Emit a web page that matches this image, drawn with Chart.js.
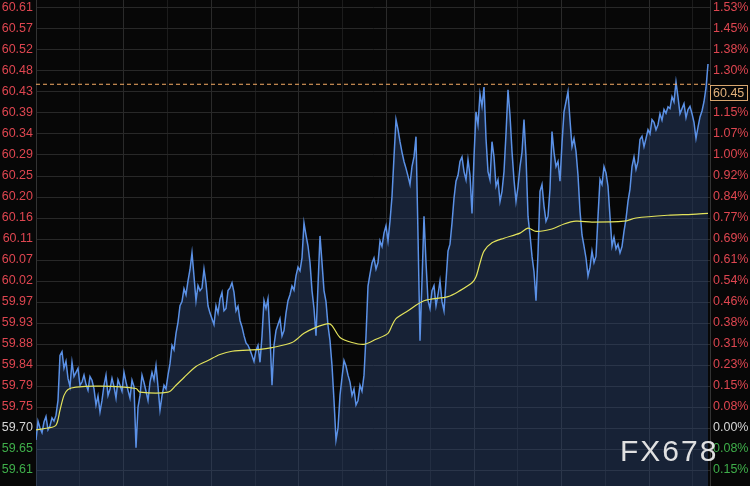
<!DOCTYPE html>
<html>
<head>
<meta charset="utf-8">
<script src="https://cdn.jsdelivr.net/npm/chart.js@4.4.1/dist/chart.umd.min.js"></script>
<style>
  html, body { margin: 0; padding: 0; background: #070707; }
  #wrap { width: 750px; height: 486px; position: relative; }
</style>
</head>
<body>
<div id="wrap"><canvas id="c"></canvas></div>
<script>
// price axis: 59.70 is the 0.00% line, one grid step is 0.0457
const basePrice = 59.70;
const tickStep = 0.0457;
const priceTicks = ['59.61', '59.65', '59.70', '59.75', '59.79', '59.84', '59.88', '59.93', '59.97', '60.02',
  '60.07', '60.11', '60.16', '60.20', '60.25', '60.29', '60.34', '60.39', '60.43', '60.48', '60.52', '60.57', '60.61'];
const pctTicks = ['0.15%', '0.08%', '0.00%', '0.08%', '0.15%', '0.23%', '0.31%', '0.38%', '0.46%', '0.54%',
  '0.61%', '0.69%', '0.77%', '0.84%', '0.92%', '1.00%', '1.07%', '1.15%', '1.23%', '1.30%', '1.38%', '1.45%', '1.53%'];
const lastPrice = 60.448;

// intraday price, one value per sample
const prices = [
  59.674, 59.715, 59.700, 59.690, 59.713, 59.725, 59.696, 59.705, 59.722, 59.715,
  59.728, 59.760, 59.858, 59.866, 59.830, 59.845, 59.808, 59.790, 59.843, 59.812,
  59.821, 59.830, 59.793, 59.800, 59.815, 59.795, 59.782, 59.812, 59.804, 59.785,
  59.750, 59.770, 59.735, 59.760, 59.793, 59.815, 59.771, 59.785, 59.808, 59.790,
  59.765, 59.805, 59.793, 59.780, 59.821, 59.800, 59.782, 59.765, 59.804, 59.790,
  59.657, 59.745, 59.771, 59.815, 59.799, 59.780, 59.760, 59.800, 59.821, 59.805,
  59.836, 59.790, 59.739, 59.770, 59.793, 59.785, 59.815, 59.840, 59.880, 59.870,
  59.906, 59.930, 59.966, 59.975, 60.003, 59.990, 60.020, 60.045, 60.081, 60.030,
  59.977, 60.010, 59.999, 60.005, 60.046, 60.015, 59.966, 59.950, 59.938, 59.925,
  59.966, 59.950, 59.981, 59.995, 59.955, 59.960, 59.999, 60.005, 60.016, 59.995,
  59.955, 59.965, 59.934, 59.920, 59.901, 59.885, 59.880, 59.870, 59.858, 59.845,
  59.869, 59.880, 59.843, 59.900, 59.977, 59.960, 59.981, 59.900, 59.793, 59.880,
  59.912, 59.925, 59.938, 59.900, 59.912, 59.950, 59.977, 59.990, 60.009, 60.000,
  60.031, 60.050, 60.042, 60.070, 60.146, 60.120, 60.096, 60.060, 59.999, 59.960,
  59.901, 60.010, 60.118, 60.060, 59.999, 59.975, 59.923, 59.890, 59.836, 59.760,
  59.674, 59.700, 59.771, 59.810, 59.847, 59.835, 59.815, 59.800, 59.771, 59.785,
  59.750, 59.760, 59.793, 59.780, 59.815, 59.900, 60.009, 60.035, 60.059, 60.070,
  60.046, 60.060, 60.107, 60.095, 60.124, 60.140, 60.107, 60.150, 60.204, 60.290,
  60.371, 60.350, 60.323, 60.300, 60.280, 60.265, 60.248, 60.230, 60.269, 60.290,
  60.334, 60.120, 59.890, 60.020, 60.161, 60.060, 59.977, 59.960, 59.999, 60.010,
  59.966, 59.990, 60.020, 59.975, 59.955, 60.020, 60.085, 60.100, 60.146, 60.200,
  60.237, 60.250, 60.280, 60.290, 60.258, 60.240, 60.284, 60.250, 60.167, 60.290,
  60.388, 60.360, 60.427, 60.400, 60.442, 60.330, 60.258, 60.240, 60.323, 60.290,
  60.226, 60.240, 60.193, 60.215, 60.258, 60.340, 60.436, 60.380, 60.302, 60.240,
  60.193, 60.225, 60.269, 60.300, 60.371, 60.290, 60.161, 60.120, 60.074, 60.040,
  59.977, 60.080, 60.215, 60.230, 60.183, 60.150, 60.161, 60.220, 60.345, 60.300,
  60.269, 60.280, 60.237, 60.320, 60.388, 60.410, 60.432, 60.370, 60.312, 60.330,
  60.302, 60.250, 60.172, 60.120, 60.096, 60.070, 60.031, 60.050, 60.085, 60.060,
  60.074, 60.160, 60.241, 60.230, 60.269, 60.255, 60.226, 60.160, 60.096, 60.115,
  60.090, 60.100, 60.081, 60.095, 60.128, 60.155, 60.193, 60.220, 60.269, 60.290,
  60.263, 60.280, 60.328, 60.335, 60.312, 60.330, 60.349, 60.340, 60.371, 60.365,
  60.349, 60.360, 60.384, 60.370, 60.393, 60.385, 60.399, 60.395, 60.421, 60.410,
  60.453, 60.420, 60.384, 60.395, 60.406, 60.375, 60.393, 60.400, 60.384, 60.365,
  60.330, 60.355, 60.377, 60.390, 60.410, 60.440, 60.492
];

// moving average, read at these sample positions
const maIndex = [0, 6, 10, 12, 14, 16, 20, 32, 50, 52, 66, 70, 74, 80, 86, 92, 98, 112, 118, 128,
  134, 140, 146, 148, 152, 158, 164, 170, 176, 178, 180, 186, 194, 206, 212, 218, 220, 222, 224, 228,
  234, 242, 246, 250, 258, 264, 270, 278, 294, 300, 316, 328, 336];
const maValues = [59.696, 59.700, 59.706, 59.739, 59.771, 59.784, 59.789, 59.791, 59.786, 59.778,
  59.778, 59.793, 59.810, 59.834, 59.847, 59.860, 59.867, 59.871, 59.875, 59.886,
  59.906, 59.919, 59.927, 59.923, 59.897, 59.886, 59.882, 59.893, 59.906, 59.923,
  59.938, 59.955, 59.977, 59.986, 59.999, 60.016, 60.029, 60.059, 60.085, 60.103,
  60.113, 60.124, 60.135, 60.128, 60.133, 60.144, 60.150, 60.148, 60.150, 60.157,
  60.163, 60.165, 60.167];

const xMax = 337;
const xGridStep = 21.9;

const tickValues = priceTicks.map((_, i) => basePrice + (i - 2) * tickStep);
const labelColor = i => (i < 2 ? '#3fae4a' : i === 2 ? '#d6d6d6' : '#de4650');

const priceData = prices.map((v, i) => ({ x: i, y: v }));
const maData = maIndex.map((x, i) => ({ x: x, y: maValues[i] }));

const setPriceTicks = scale => {
  scale.ticks = tickValues.map(v => ({ value: v }));
};
const noEdgePadding = scale => {
  scale.paddingTop = 0;
  scale.paddingBottom = 0;
  scale.paddingLeft = 0;
  scale.paddingRight = 0;
};

const priceTag = {
  id: 'priceTag',
  afterDraw(chart) {
    const { ctx, chartArea, scales } = chart;
    const y = scales.y.getPixelForValue(lastPrice);
    ctx.save();
    ctx.fillStyle = '#070707';
    ctx.fillRect(chartArea.right, y + 1, 38, 16);
    ctx.strokeStyle = '#d8a66e';
    ctx.lineWidth = 1;
    ctx.strokeRect(chartArea.right + 0.5, Math.round(y) + 1.5, 37, 15);
    ctx.fillStyle = '#e2b27c';
    ctx.font = '12.5px "Liberation Sans", Arial, sans-serif';
    ctx.textBaseline = 'middle';
    ctx.fillText(lastPrice.toFixed(2), chartArea.right + 3, y + 9.5);

    // watermark
    ctx.fillStyle = 'rgba(235,235,235,0.95)';
    ctx.font = '30px "Liberation Sans", Arial, sans-serif';
    ctx.textBaseline = 'alphabetic';
    ctx.letterSpacing = '2px';
    ctx.fillText('FX678', 620, 461);
    ctx.restore();
  }
};

new Chart(document.getElementById('c'), {
  type: 'line',
  data: {
    datasets: [
      {
        data: [{ x: 0, y: lastPrice }, { x: xMax, y: lastPrice }],
        borderColor: '#f5ab65',
        borderWidth: 1,
        borderDash: [4, 3],
        pointRadius: 0,
        fill: false,
        order: 0
      },
      {
        data: maData,
        borderColor: '#e3e35c',
        borderWidth: 1.2,
        pointRadius: 0,
        tension: 0.3,
        fill: false,
        order: 1
      },
      {
        data: priceData,
        borderColor: '#5b91e6',
        borderWidth: 1.5,
        pointRadius: 0,
        tension: 0,
        fill: 'start',
        backgroundColor: 'rgba(45,72,120,0.42)',
        order: 2
      }
    ]
  },
  options: {
    responsive: true,
    maintainAspectRatio: false,
    animation: false,
    devicePixelRatio: 1,
    layout: { padding: 0 },
    plugins: { legend: { display: false }, tooltip: { enabled: false } },
    scales: {
      x: {
        type: 'linear',
        min: 0,
        max: xMax,
        afterBuildTicks: scale => {
          const t = [];
          for (let v = 0; v <= xMax; v += xGridStep) t.push({ value: v });
          scale.ticks = t;
        },
        afterFit: scale => { scale.height = 0; noEdgePadding(scale); },
        ticks: { display: false },
        grid: { color: ctx => (ctx.index % 2 === 0 ? '#2a2a2a' : '#1c1c1c'), drawTicks: false },
        border: { display: false }
      },
      y: {
        position: 'left',
        min: 59.5738,
        max: 60.6314,
        afterBuildTicks: setPriceTicks,
        afterFit: scale => { scale.width = 36; noEdgePadding(scale); },
        ticks: {
          autoSkip: false,
          padding: 3,
          callback: (v, i) => priceTicks[i],
          color: ctx => labelColor(ctx.index),
          font: { family: '"Liberation Sans", Arial, sans-serif', size: 12.5 }
        },
        grid: { color: '#282828', drawTicks: false },
        border: { color: '#333333' }
      },
      y2: {
        position: 'right',
        min: 59.5738,
        max: 60.6314,
        afterBuildTicks: setPriceTicks,
        afterFit: scale => { scale.width = 40; noEdgePadding(scale); },
        ticks: {
          autoSkip: false,
          padding: 3,
          callback: (v, i) => pctTicks[i],
          color: ctx => labelColor(ctx.index),
          font: { family: '"Liberation Sans", Arial, sans-serif', size: 12.5 }
        },
        grid: { display: false, drawTicks: false },
        border: { color: '#333333' }
      }
    }
  },
  plugins: [priceTag]
});
</script>
</body>
</html>
